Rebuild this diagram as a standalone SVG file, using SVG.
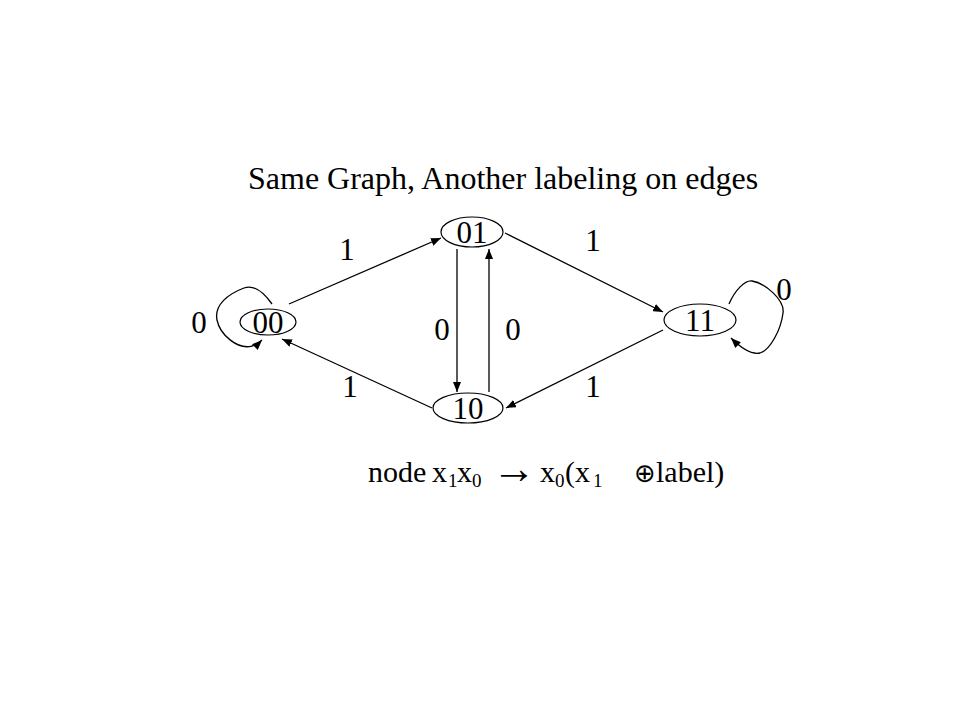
<svg xmlns="http://www.w3.org/2000/svg" width="960" height="720" viewBox="0 0 960 720">
<style>
text{font-family:"Liberation Serif","Times New Roman",serif;font-size:31px;fill:#000}
.c{text-anchor:middle}
.t{font-size:32px}
.s{font-size:30px}
.sub{font-size:19px}
.sym{font-family:"DejaVu Sans",sans-serif;font-size:26px}
.arr{font-size:44px}
ellipse{fill:#fff;stroke:#000;stroke-width:1.2}
.e{fill:none;stroke:#000;stroke-width:1.3;marker-end:url(#ah)}
</style>
<defs>
<marker id="ah" viewBox="0 0 10 8" refX="10" refY="4" markerWidth="10" markerHeight="8" markerUnits="userSpaceOnUse" orient="auto">
<path d="M0,0 L10,4 L0,8 Z" fill="#000"/>
</marker>
</defs>
<rect width="960" height="720" fill="#fff"/>
<text class="t" x="248" y="189">Same Graph, Another labeling on edges</text>
<g id="edges">
<path class="e" d="M289,304 L441,238"/>
<path class="e" d="M457,249 L457,392"/>
<path class="e" d="M489,392 L489,249"/>
<path class="e" d="M432,408 L282,339"/>
<path class="e" d="M505,233 L663,312"/>
<path class="e" d="M663,330 L506,408"/>
<path class="e" d="M272,304 C262,290 252,285 244,288 C228,294 214,305 217,320 C220,335 238,350 252,346 C257,345 260,342 262,340"/>
<path class="e" d="M729,304 C735,290 745,280 752,281 C765,283 785,300 783,313 C781,330 770,350 760,353 C750,355 740,347 731,338"/>
</g>
<g id="labels">
<text class="c" x="347" y="260">1</text>
<text class="c" x="593" y="251">1</text>
<text class="c" x="199" y="333">0</text>
<text class="c" x="442" y="340">0</text>
<text class="c" x="513" y="340">0</text>
<text class="c" x="350" y="397">1</text>
<text class="c" x="593" y="397">1</text>
<text class="c" x="784" y="300">0</text>
</g>
<g id="n00"><ellipse cx="268" cy="322" rx="28" ry="13"/><text class="c" x="268" y="333">00</text></g>
<g id="n01"><ellipse cx="472" cy="232" rx="31" ry="15"/><text class="c" x="472" y="243">01</text></g>
<g id="n10"><ellipse cx="468" cy="408" rx="35" ry="15"/><text class="c" x="468" y="419">10</text></g>
<g id="n11"><ellipse cx="700" cy="320" rx="36" ry="16"/><text class="c" x="700" y="331">11</text></g>
<text class="s" y="482"><tspan x="368">node</tspan><tspan x="432">x</tspan><tspan class="sub" x="448" y="487">1</tspan><tspan x="457" y="482">x</tspan><tspan class="sub" x="472" y="487">0</tspan><tspan class="arr" x="492" y="483">→</tspan><tspan x="540" y="482">x</tspan><tspan class="sub" x="555" y="487">0</tspan><tspan x="565" y="482">(x</tspan><tspan class="sub" x="593" y="487">1</tspan><tspan class="sym" x="634" y="482">⊕</tspan><tspan x="656" y="482">label)</tspan></text>
</svg>
